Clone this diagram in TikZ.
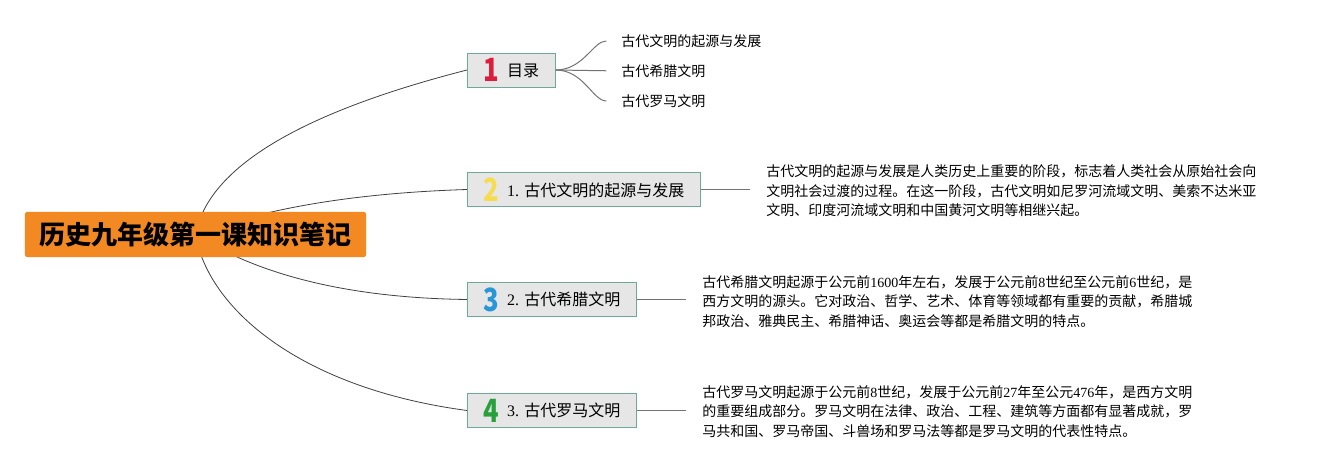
\documentclass[tikz,border=0pt]{standalone}
\usepackage{fontspec}
\setmainfont{Liberation Serif}
\newfontfamily\cjk{Noto Sans CJK SC}
\usetikzlibrary{positioning, backgrounds}

\definecolor{rootorange}{RGB}{242, 137, 35}
\definecolor{boxgray}{RGB}{230, 230, 230}
\definecolor{boxline}{RGB}{110, 168, 150}
\definecolor{icored}{RGB}{220, 30, 60}
\definecolor{icoyellow}{RGB}{246, 220, 80}
\definecolor{icoblue}{RGB}{40, 150, 215}
\definecolor{icogreen}{RGB}{40, 160, 60}

\newcommand{\badge}[2]{\raisebox{-4pt}{\color{#1}\fontsize{24pt}{24pt}\cjk\bfseries\scalebox{0.8}[1]{#2}}\hspace{6pt}}
\newcommand{\yr}[1]{{\rmfamily #1}}

\begin{document}
\begin{tikzpicture}[x=0.75pt, y=-0.75pt,
        every node/.style={font=\cjk},
        root/.style={fill=rootorange, rounded corners=2pt, minimum width=256pt, minimum height=34pt,
            font=\fontsize{19.5pt}{22pt}\cjk\bfseries},
        l1/.style={draw=boxline, fill=boxgray, anchor=west, minimum height=25.5pt, inner ysep=0pt,
            font=\fontsize{12pt}{14pt}\cjk},
        leaf/.style={anchor=west, inner sep=0pt, font=\fontsize{10.5pt}{13pt}\cjk},
        note/.style={anchor=west, inner sep=0pt, align=left, font=\fontsize{10.5pt}{14.6pt}\cjk},
        trunk/.style={draw=black!75, line width=0.6pt},
        twig/.style={draw=black!55, line width=0.75pt}
    ]
    \useasboundingbox (0,0) rectangle (1325,470);

    % Root
    \node[root] (root) at (195.5, 234.5) {历史九年级第一课知识笔记};

    % Level 1
    \node[l1, minimum width=66pt] (ml) at (467, 70) {\badge{icored}{1}目录};
    \node[l1, minimum width=175pt] (qy) at (467, 189.5) {\badge{icoyellow}{2}\yr{1. }古代文明的起源与发展};
    \node[l1, minimum width=127pt] (xl) at (467, 299.5) {\badge{icoblue}{3}\yr{2. }古代希腊文明};
    \node[l1, minimum width=127pt] (lm) at (467, 410.5) {\badge{icogreen}{4}\yr{3. }古代罗马文明};

    % Level 2 - 目录
    \node[leaf] (ml1) at (621, 41) {古代文明的起源与发展};
    \node[leaf] (ml2) at (621, 71) {古代希腊文明};
    \node[leaf] (ml3) at (621, 101) {古代罗马文明};

    % Level 2 - notes
    \node[note] (qyt) at (766, 191) {古代文明的起源与发展是人类历史上重要的阶段，标志着人类社会从原始社会向\\
        文明社会过渡的过程。在这一阶段，古代文明如尼罗河流域文明、美索不达米亚\\
        文明、印度河流域文明和中国黄河文明等相继兴起。};
    \node[note] (xlt) at (702, 301.5) {古代希腊文明起源于公元前\yr{1600}年左右，发展于公元前\yr{8}世纪至公元前\yr{6}世纪，是\\
        西方文明的源头。它对政治、哲学、艺术、体育等领域都有重要的贡献，希腊城\\
        邦政治、雅典民主、希腊神话、奥运会等都是希腊文明的特点。};
    \node[note] (lmt) at (702, 411.5) {古代罗马文明起源于公元前\yr{8}世纪，发展于公元前\yr{27}年至公元\yr{476}年，是西方文明\\
        的重要组成部分。罗马文明在法律、政治、工程、建筑等方面都有显著成就，罗\\
        马共和国、罗马帝国、斗兽场和罗马法等都是罗马文明的代表性特点。};

    % Connectors
    \begin{pgfonlayer}{background}
    \draw[trunk] (root.center) .. controls (208, 168) and (299, 113) .. (ml.west);
    \draw[trunk] (root.center) .. controls (265, 208) and (356, 193) .. (qy.west);
    \draw[trunk] (root.center) .. controls (258, 275) and (349, 298) .. (xl.west);
    \draw[trunk] (root.center) .. controls (208, 308) and (299, 388) .. (lm.west);
    \end{pgfonlayer}
    \draw[twig, shorten >=11pt] (ml.east) to[out=0, in=180] (ml1.west);
    \draw[twig, shorten >=11pt] (ml.east) -- (ml2.west);
    \draw[twig, shorten >=11pt] (ml.east) to[out=0, in=180] (ml3.west);
    \draw[twig, shorten >=12pt] (qy.east) -- (qyt.west |- qy.east);
    \draw[twig, shorten >=12pt] (xl.east) -- (xlt.west |- xl.east);
    \draw[twig, shorten >=12pt] (lm.east) -- (lmt.west |- lm.east);
\end{tikzpicture}
\end{document}
